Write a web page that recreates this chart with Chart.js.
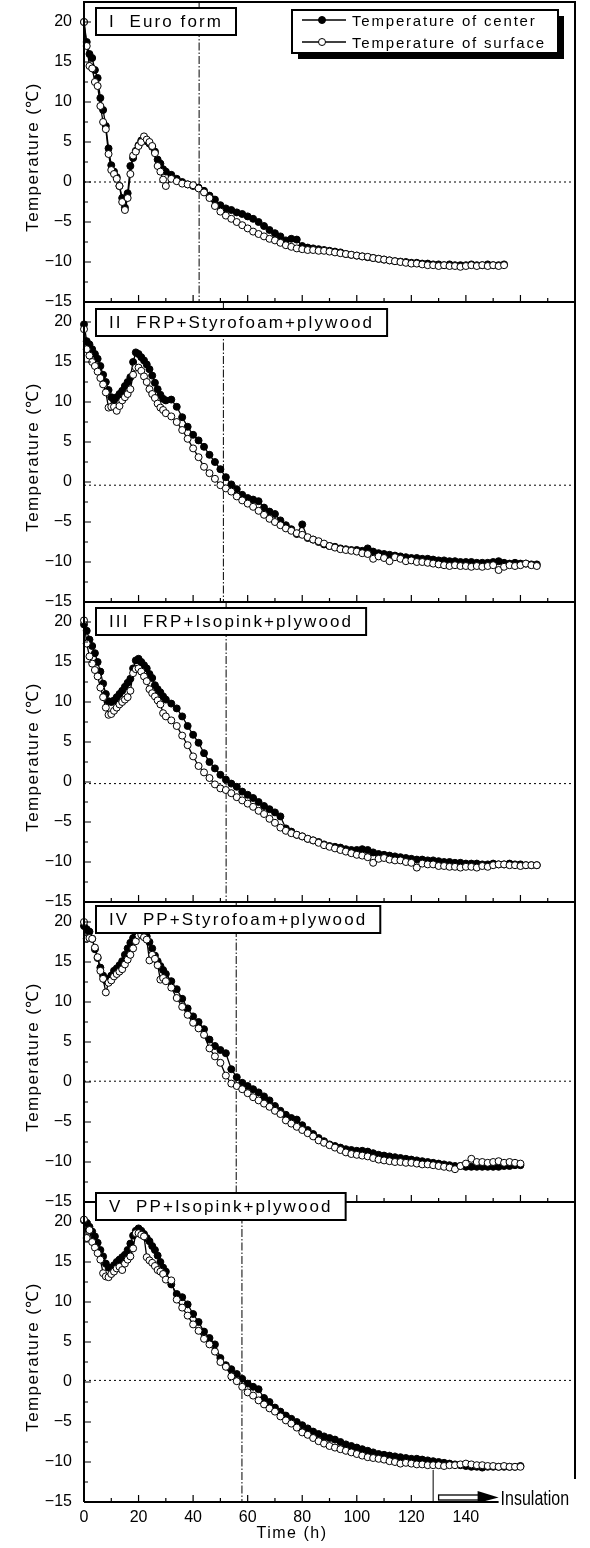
<!DOCTYPE html>
<html>
<head>
<meta charset="utf-8">
<script src="https://cdn.jsdelivr.net/npm/chart.js@4.4.0/dist/chart.umd.min.js"></script>
<style>
  html, body { margin: 0; padding: 0; background: #fff; }
  #wrap { position: relative; width: 590px; height: 1548px; overflow: hidden; }
  #wrap canvas { position: absolute; left: 0; }
</style>
</head>
<body>
<div id="wrap"></div>
<script>
// time of each reading (h): hourly for the first 30 h, then every 2 h
const hours = [0,1,2,3,4,5,6,7,8,9,10,11,12,13,14,15,16,17,18,19,20,21,22,23,24,25,26,27,28,29,30,
  32,34,36,38,40,42,44,46,48,50,52,54,56,58,60,62,64,66,68,70,72,74,76,78,80,82,84,86,88,90,
  92,94,96,98,100,102,104,106,108,110,112,114,116,118,120,122,124,126,128,130,132,134,136,138,140,
  142,144,146,148,150,152,154,156,158,160,162,164,166];

const seriesLabels = ["Temperature of center", "Temperature of surface"];
const panelTitles = ["I  Euro form", "II  FRP+Styrofoam+plywood", "III  FRP+Isopink+plywood",
  "IV  PP+Styrofoam+plywood", "V  PP+Isopink+plywood"];
const yTitle = "Temperature (\u2103)";
const xTitle = "Time (h)";

// form removal time (dash-dot line) and level of the dotted reference line, per panel
const removalTimes = [42.2, 51.1, 52.1, 55.8, 57.9];
const zeroLevels = [0, -0.4, -0.2, 0.1, 0.2];
const insulationStart = 128;
const insulationEnd = 152;

// I Euro form
const centerI = [20,17.5,16,15.5,14,13,10.5,9,7,4.2,2.1,1.3,0.6,-0.5,-2,-3.2,-1.4,2,3,3.9,4.6,5.2,5.4,5.1,4.8,4.4,3.8,2.8,2.3,1.6,1.3,
  0.9,0.4,0,-0.3,-0.5,-0.7,-1.1,-1.7,-2.2,-2.9,-3.3,-3.5,-3.8,-4.0,-4.3,-4.6,-5.0,-5.5,-6.0,-6.4,-6.8,-7.3,-7.1,-7.2,-8.0,
  -8.2,-8.3,-8.4,-8.5,-8.6,-8.7,-8.8,-9.0,-9.1,-9.2,-9.3,-9.4,-9.5,-9.6,-9.7,-9.8,-9.9,-9.95,-10.0,-10.1,-10.1,-10.2,-10.2,
  -10.3,-10.3,-10.4,-10.3,-10.4,-10.4,-10.4,-10.3,-10.4,-10.4,-10.3,-10.4,-10.4,-10.3];
const surfaceI = [20,17,14.5,14.2,12.5,12,9.5,7.5,6.6,3.5,1.5,1.0,0.4,-0.5,-2.5,-3.5,-2,1.0,3.3,3.8,4.5,5.0,5.7,5.3,5.0,4.5,3.6,2.0,1.3,0.3,-0.5,
  0.4,0.1,-0.2,-0.3,-0.4,-0.8,-1.3,-2.0,-3.0,-3.7,-4.2,-4.6,-5.0,-5.4,-5.8,-6.2,-6.5,-6.8,-7.1,-7.3,-7.6,-7.9,-8.1,-8.3,-8.4,
  -8.5,-8.5,-8.6,-8.6,-8.7,-8.8,-8.9,-9.0,-9.1,-9.2,-9.3,-9.35,-9.5,-9.6,-9.7,-9.8,-9.9,-10.0,-10.1,-10.2,-10.2,-10.3,-10.4,
  -10.4,-10.5,-10.4,-10.5,-10.5,-10.6,-10.5,-10.4,-10.5,-10.4,-10.5,-10.4,-10.5,-10.4];

// II FRP+Styrofoam+plywood
const centerII = [19.7,17.6,17.2,16.6,16,15.4,14.5,13.4,12.5,11.5,10.6,10.2,10.6,11.0,11.4,12,12.5,13.1,15,16.2,16,15.6,15.2,14.7,14.1,13.3,12.4,11.6,10.9,10.4,10.2,
  10.3,9.4,8.1,6.9,5.9,5.2,4.4,3.4,2.5,1.6,0.6,-0.3,-0.9,-1.6,-2.0,-2.2,-2.4,-3.2,-3.7,-4.0,-4.8,-5.4,-5.9,-6.5,-5.3,
  -7.0,-7.2,-7.5,-7.8,-8.0,-8.1,-8.3,-8.4,-8.5,-8.5,-8.6,-8.3,-8.7,-8.9,-9.0,-9.1,-9.2,-9.3,-9.4,-9.5,-9.5,-9.6,-9.6,-9.7,-9.8,
  -9.8,-9.9,-9.9,-10.0,-10.0,-10.0,-10.1,-10.1,-10.1,-10.0,-9.9,-10.1,-10.2,-10.1,-10.2,-10.2,-10.3,-10.3];
const surfaceII = [19.1,16.6,15.8,15.0,14.5,13.8,13.0,12.2,11.2,9.3,9.4,9.4,8.9,9.5,10.2,10.6,11.0,11.6,13.4,14.3,14.3,13.9,13.2,12.5,11.6,11.0,10.5,9.8,9.3,9.0,8.6,
  8.2,7.5,6.5,5.4,4.2,3.1,1.9,1.1,0.4,-0.4,-0.8,-1.2,-1.8,-2.3,-2.7,-3.1,-3.6,-4.1,-4.6,-5.0,-5.4,-5.8,-6.1,-6.4,-6.6,
  -6.9,-7.2,-7.4,-7.7,-8.0,-8.2,-8.4,-8.5,-8.6,-8.7,-8.9,-9.0,-9.6,-9.3,-9.5,-9.9,-9.4,-9.6,-9.9,-9.8,-10.0,-10.0,-10.1,-10.2,-10.3,
  -10.4,-10.5,-10.4,-10.5,-10.5,-10.6,-10.5,-10.6,-10.5,-10.4,-11.0,-10.6,-10.4,-10.5,-10.4,-10.2,-10.4,-10.5];

// III FRP+Isopink+plywood
const centerIII = [19.7,18.9,17.8,17.0,16.1,15.0,13.8,12.3,11.0,10.1,10.0,10.2,10.6,11.0,11.4,11.9,12.4,12.9,14.2,15.2,15.4,15.0,14.6,14.2,13.5,13.0,12.1,11.6,11.2,10.7,10.3,
  9.8,9.2,8.2,7.0,5.9,4.9,3.6,2.5,1.7,0.9,0.3,-0.2,-0.6,-1.2,-1.6,-2.0,-2.5,-3.0,-3.4,-3.8,-4.3,-5.8,-6.2,-6.6,-6.8,
  -7.1,-7.3,-7.5,-7.8,-8.0,-8.1,-8.2,-8.4,-8.5,-8.5,-8.4,-8.5,-8.8,-9.0,-9.1,-9.2,-9.3,-9.4,-9.5,-9.6,-9.7,-9.7,-9.8,-9.8,-9.9,
  -10.0,-10.0,-10.1,-10.1,-10.2,-10.2,-10.2,-10.3,-10.3,-10.2,-10.3,-10.3,-10.2,-10.3,-10.3,-10.4,-10.4,-10.4];
const surfaceIII = [20.2,17.3,15.7,14.8,14.0,13.2,11.8,10.6,9.3,8.4,8.5,8.9,9.3,9.7,10.0,10.3,10.6,11.4,13.6,14.1,14.2,13.8,13.2,12.6,11.6,11.1,10.7,10.2,9.7,8.6,8.2,
  7.7,7.0,5.8,4.6,3.2,2.0,1.2,0.5,-0.3,-0.8,-1.0,-1.4,-1.9,-2.3,-2.7,-3.1,-3.6,-4.0,-4.6,-5.1,-5.7,-6.1,-6.4,-6.6,-6.8,
  -7.1,-7.3,-7.6,-7.9,-8.1,-8.3,-8.5,-8.7,-8.9,-9.1,-9.2,-9.4,-10.1,-9.6,-9.5,-9.7,-9.8,-9.8,-10.0,-10.1,-10.7,-10.2,-10.3,-10.3,-10.5,
  -10.5,-10.6,-10.6,-10.7,-10.6,-10.6,-10.7,-10.5,-10.6,-10.4,-10.3,-10.3,-10.4,-10.4,-10.5,-10.4,-10.4,-10.4];

// IV PP+Styrofoam+plywood
const centerIV = [19.5,19.1,18.8,17.9,16.6,15.5,14.3,13.3,12.7,12.9,13.3,13.9,14.2,14.6,15.1,15.9,16.7,17.4,18.0,18.6,19.1,19.0,18.7,18.2,17.5,16.7,15.8,15.1,14.5,14.0,13.5,
  12.6,11.6,10.4,9.2,8.2,7.5,6.6,5.3,4.5,4.0,3.6,1.6,0.6,-0.1,-0.5,-0.9,-1.3,-1.8,-2.3,-3.0,-3.6,-4.1,-4.5,-4.7,-5.4,
  -6.0,-6.5,-7.0,-7.4,-7.8,-8.0,-8.2,-8.4,-8.5,-8.6,-8.6,-8.7,-8.9,-9.1,-9.2,-9.3,-9.4,-9.5,-9.6,-9.7,-9.8,-9.9,-10.0,-10.1,-10.2,
  -10.3,-10.4,-10.5,-10.5,-10.6,-10.6,-10.6,-10.6,-10.6,-10.6,-10.6,-10.5,-10.5,-10.4,-10.4];
const surfaceIV = [20,17.9,18.0,17.9,16.8,15.6,13.9,12.9,11.2,12.4,12.7,13.2,13.5,13.8,14.1,14.7,15.3,15.9,16.7,17.6,18.3,18.4,18.1,17.8,15.2,15.9,15.4,14.6,12.8,13.0,12.6,
  11.8,10.5,9.4,8.4,7.4,6.7,5.9,4.2,3.2,2.4,0.8,-0.2,-0.5,-0.9,-1.4,-1.9,-2.3,-2.7,-3.1,-3.6,-4.0,-4.8,-5.2,-5.6,-6.0,
  -6.4,-6.8,-7.3,-7.6,-7.9,-8.2,-8.5,-8.8,-9.0,-9.1,-9.2,-9.3,-9.5,-9.7,-9.8,-9.9,-10.0,-10.0,-10.1,-10.1,-10.2,-10.3,-10.3,-10.4,-10.5,
  -10.6,-10.7,-10.9,-10.5,-10.2,-9.6,-10.0,-10.0,-10.1,-10.0,-9.9,-10.1,-10.0,-10.1,-10.2];

// V PP+Isopink+plywood
const centerV = [20.2,19.9,19.4,18.8,18.2,17.4,16.5,15.7,14.8,14.3,14.2,14.6,15.0,15.3,15.6,15.9,16.5,17.3,18.3,18.9,19.2,18.9,18.5,18.0,17.6,17.0,16.5,15.8,15.0,14.3,13.8,
  12.2,11.0,10.6,9.7,8.5,7.5,6.3,5.5,4.7,3.0,2.1,1.6,1.0,0.4,-0.2,-0.6,-0.9,-2.0,-2.5,-3.2,-3.7,-4.2,-4.6,-5.0,-5.4,
  -5.8,-6.2,-6.5,-6.8,-7.0,-7.2,-7.5,-7.8,-8.0,-8.2,-8.4,-8.6,-8.8,-9.0,-9.1,-9.2,-9.3,-9.4,-9.5,-9.6,-9.6,-9.7,-9.8,-9.9,-10.0,
  -10.1,-10.2,-10.3,-10.4,-10.5,-10.6,-10.6,-10.7,-10.6,-10.6,-10.6,-10.6,-10.6,-10.6,-10.5];
const surfaceV = [20.3,18.0,19.0,17.5,16.8,16.1,15.3,13.6,13.2,13.1,13.5,13.8,14.2,14.4,14.0,14.8,15.3,15.7,16.7,18.6,18.6,18.4,18.2,15.6,15.2,14.9,14.5,14.0,13.8,13.5,12.8,
  12.7,10.3,9.3,8.3,7.2,6.4,5.4,4.7,3.8,2.5,1.9,0.7,0.1,-0.6,-1.3,-1.7,-2.3,-2.8,-3.3,-3.7,-4.3,-4.8,-5.2,-5.7,-6.3,
  -6.6,-7.0,-7.4,-7.7,-8.0,-8.2,-8.4,-8.6,-8.8,-9.0,-9.2,-9.4,-9.5,-9.6,-9.7,-9.9,-10.0,-10.2,-10.1,-10.2,-10.3,-10.3,-10.4,-10.4,-10.4,
  -10.5,-10.4,-10.4,-10.3,-10.2,-10.3,-10.4,-10.4,-10.5,-10.5,-10.6,-10.5,-10.6,-10.6,-10.6];

const centers = [centerI, centerII, centerIII, centerIV, centerV];
const surfaces = [surfaceI, surfaceII, surfaceIII, surfaceIV, surfaceV];

// layout of the stacked panels (page pixels)
const panelTops = [2, 302, 602, 902, 1202];
const titleBoxOffsets = [6, 7, 6, 4, -9];
const PANEL_H = 300;
const PAD = 24;
const FONT = '"Liberation Sans", Arial, sans-serif';

const toPoints = (vals) => vals.map((v, i) => ({ x: hours[i], y: v }));
const fmt = (v) => (v < 0 ? "\u2212" + Math.abs(v) : String(v));

const decor = {
  id: "decor",
  beforeDatasetsDraw(chart, _args, o) {
    const { ctx, chartArea: a, scales: { x, y } } = chart;
    ctx.save();
    ctx.strokeStyle = "#000";
    ctx.lineWidth = 1;
    ctx.setLineDash([2, 3]);
    const zy = y.getPixelForValue(o.zero);
    ctx.beginPath(); ctx.moveTo(a.left, zy); ctx.lineTo(a.right, zy); ctx.stroke();
    ctx.setLineDash([8, 2, 1.5, 2]);
    const rx = x.getPixelForValue(o.removal);
    ctx.beginPath(); ctx.moveTo(rx, a.top); ctx.lineTo(rx, a.bottom); ctx.stroke();
    ctx.restore();
  },
  afterDatasetsDraw(chart, _args, o) {
    const { ctx, chartArea: a, scales: { x, y } } = chart;
    ctx.save();
    ctx.strokeStyle = "#000";
    ctx.fillStyle = "#000";

    // inward tick marks
    ctx.lineWidth = 1.2;
    ctx.beginPath();
    for (let t = 10; t < 180; t += 10) {
      if (o.last && t >= 130) continue;
      const px = x.getPixelForValue(t);
      const len = t % 20 === 0 ? 7 : 4;
      ctx.moveTo(px, a.bottom); ctx.lineTo(px, a.bottom - len);
    }
    for (let v = -12.5; v <= 22.5; v += 2.5) {
      const py = y.getPixelForValue(v);
      const len = v % 5 === 0 ? 7 : 4;
      ctx.moveTo(a.left, py); ctx.lineTo(a.left + len, py);
    }
    ctx.stroke();

    // frame
    ctx.lineWidth = 2;
    ctx.beginPath();
    ctx.moveTo(a.left, a.bottom); ctx.lineTo(a.left, a.top); ctx.lineTo(a.right, a.top);
    if (o.last) {
      ctx.lineTo(a.right, a.bottom - 23);
      ctx.moveTo(a.left, a.bottom); ctx.lineTo(x.getPixelForValue(insulationEnd), a.bottom);
    } else {
      ctx.lineTo(a.right, a.bottom); ctx.lineTo(a.left, a.bottom);
    }
    ctx.stroke();

    // y axis title
    ctx.save();
    ctx.translate(33, (a.top + a.bottom) / 2 + 5);
    ctx.rotate(-Math.PI / 2);
    ctx.font = "17px " + FONT;
    ctx.letterSpacing = "1.4px";
    ctx.textAlign = "center";
    ctx.textBaseline = "middle";
    ctx.fillText(yTitle, 0, 0);
    ctx.restore();

    // panel title box
    ctx.font = "17px " + FONT;
    ctx.letterSpacing = "2.1px";
    ctx.textBaseline = "middle";
    ctx.textAlign = "left";
    const tw = ctx.measureText(o.title).width;
    const bx = a.left + 12, by = a.top + o.boxOffset, bw = tw + 26, bh = 27;
    ctx.fillStyle = "#fff";
    ctx.fillRect(bx, by, bw, bh);
    ctx.lineWidth = 2;
    ctx.strokeRect(bx, by, bw, bh);
    ctx.fillStyle = "#000";
    ctx.fillText(o.title, bx + 13, by + bh / 2 + 1);

    // legend (first panel only)
    if (o.legend) {
      const lx = 292, ly = a.top + 8, lw = 266, lh = 43;
      ctx.fillRect(lx + 6, ly + 6, lw, lh);
      ctx.fillStyle = "#fff";
      ctx.fillRect(lx, ly, lw, lh);
      ctx.strokeRect(lx, ly, lw, lh);
      ctx.font = "15px " + FONT;
      ctx.letterSpacing = "1.8px";
      chart.data.datasets.forEach((ds, i) => {
        const ry = ly + 10 + i * 22;
        ctx.lineWidth = 1.5;
        ctx.beginPath(); ctx.moveTo(lx + 10, ry); ctx.lineTo(lx + 54, ry); ctx.stroke();
        ctx.beginPath(); ctx.arc(lx + 30, ry, 3.5, 0, Math.PI * 2);
        ctx.fillStyle = ds.pointBackgroundColor; ctx.fill();
        ctx.lineWidth = 1; ctx.stroke();
        ctx.fillStyle = "#000";
        ctx.fillText(ds.label, lx + 60, ry + 2);
      });
    }

    // insulation marker and time axis title (last panel only)
    if (o.last) {
      const ix = x.getPixelForValue(insulationStart);
      const ex = x.getPixelForValue(insulationEnd);
      ctx.lineWidth = 1;
      ctx.beginPath(); ctx.moveTo(ix, y.getPixelForValue(-11)); ctx.lineTo(ix, a.bottom); ctx.stroke();
      const ax = x.getPixelForValue(insulationStart + 2);
      ctx.lineWidth = 1.3;
      ctx.strokeRect(ax, a.bottom - 7, ex - 20 - ax, 5);
      ctx.beginPath();
      ctx.moveTo(ex - 21, a.bottom - 11); ctx.lineTo(ex, a.bottom - 4.5); ctx.lineTo(ex - 21, a.bottom + 1);
      ctx.closePath(); ctx.fill();
      ctx.save();
      ctx.translate(ex + 2, a.bottom - 4);
      ctx.scale(0.8, 1);
      ctx.letterSpacing = "0px";
      ctx.font = "20px " + FONT;
      ctx.fillText("Insulation", 0, 1);
      ctx.restore();

      ctx.font = "16px " + FONT;
      ctx.letterSpacing = "1.5px";
      ctx.textAlign = "center";
      ctx.fillText(xTitle, 292, a.bottom + 32);
    }
    ctx.restore();
  }
};

const wrap = document.getElementById("wrap");

panelTitles.forEach((title, p) => {
  const last = p === panelTitles.length - 1;
  const bottomH = last ? 1548 - (panelTops[p] + PANEL_H) : PAD;
  const canvas = document.createElement("canvas");
  canvas.width = 590;
  canvas.height = PAD + PANEL_H + bottomH;
  canvas.style.top = (panelTops[p] - PAD) + "px";
  wrap.appendChild(canvas);

  const dataset = (label, vals, fill, order) => ({
    label: label,
    data: toPoints(vals),
    borderColor: "#000",
    borderWidth: 1.3,
    pointRadius: 3.5,
    pointBorderWidth: 1,
    pointBorderColor: "#000",
    pointBackgroundColor: fill,
    tension: 0,
    clip: false,
    order: order
  });

  new Chart(canvas, {
    type: "line",
    data: {
      datasets: [
        dataset(seriesLabels[0], centers[p], "#000", 2),
        dataset(seriesLabels[1], surfaces[p], "#fff", 1)
      ]
    },
    options: {
      responsive: false,
      animation: false,
      events: [],
      layout: { padding: { top: PAD, right: 15, left: 0, bottom: 0 } },
      scales: {
        x: {
          type: "linear",
          min: 0,
          max: 180,
          border: { display: false },
          grid: { drawOnChartArea: false, drawTicks: false },
          ticks: {
            display: last,
            stepSize: 20,
            padding: 6,
            color: "#000",
            font: { family: FONT, size: 16 },
            maxRotation: 0,
            callback: (v) => (v <= 140 ? String(v) : "")
          },
          afterFit: (s) => { s.height = bottomH; }
        },
        y: {
          min: -15,
          max: 22.5,
          border: { display: false },
          grid: { drawOnChartArea: false, drawTicks: false },
          afterBuildTicks: (s) => {
            s.ticks = s.ticks.filter((t) => t.value % 5 === 0 && t.value <= 20);
          },
          ticks: {
            stepSize: 5,
            padding: 12,
            color: "#000",
            font: { family: FONT, size: 16 },
            callback: (v) => fmt(v)
          },
          afterFit: (s) => { s.width = 84; }
        }
      },
      plugins: {
        legend: { display: false },
        tooltip: { enabled: false },
        decor: {
          title: title,
          removal: removalTimes[p],
          zero: zeroLevels[p],
          boxOffset: titleBoxOffsets[p],
          legend: p === 0,
          last: last
        }
      }
    },
    plugins: [decor]
  });
});
</script>
</body>
</html>
